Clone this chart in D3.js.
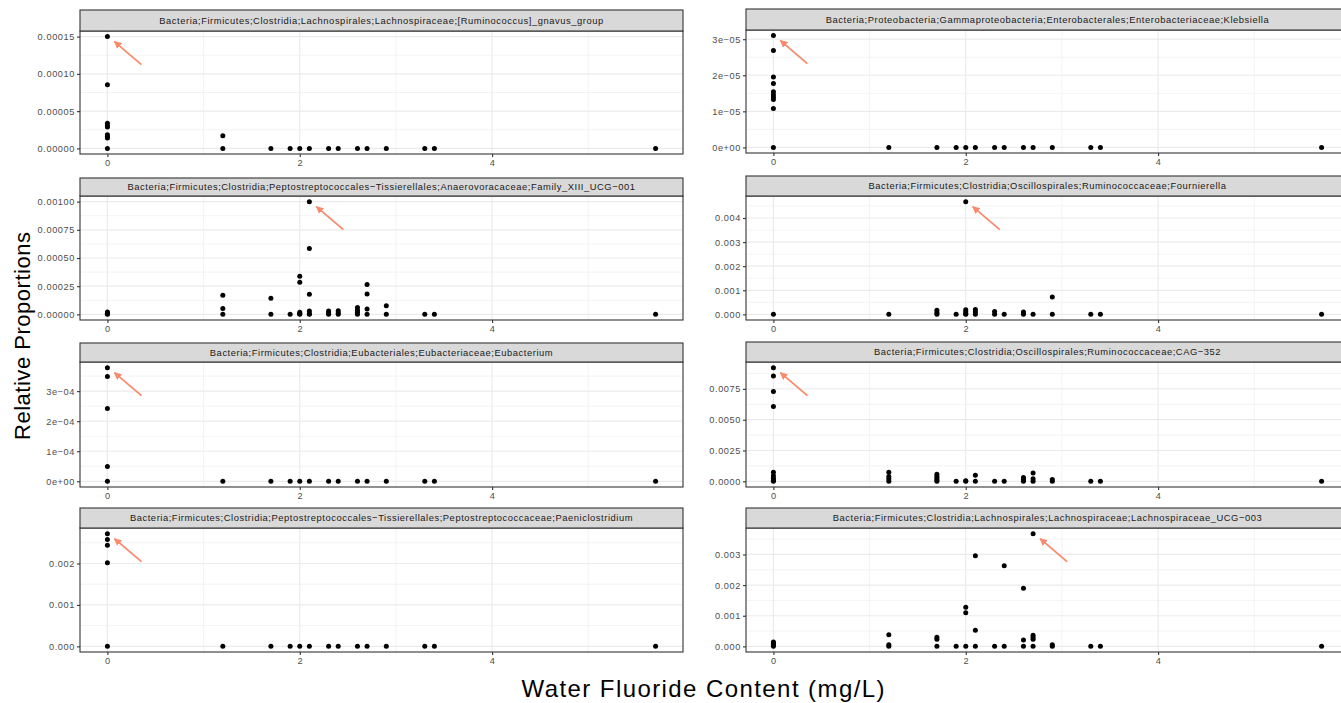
<!DOCTYPE html>
<meta charset="utf-8">
<html>
<head>
<script src="https://cdn.jsdelivr.net/npm/d3@7"></script>
<style>
  body { margin: 0; background: #fff; }
  text { font-family: "Liberation Sans", Arial, Helvetica, sans-serif; }
</style>
</head>
<body>
<div id="viz"></div>
<script>
// fluoride levels (mg/L) shared by every panel
const fluoride = [0, 1.2, 1.7, 1.9, 2.0, 2.1, 2.3, 2.4, 2.6, 2.7, 2.9, 3.3, 3.4, 5.7];

// relative proportions per fluoride level (same order as fluoride)
const gnavus = [
  [0.00015, 0.0000855, 0.0000339, 0.0000304, 0.0000286, 0.0000183, 0.0000161, 0.0000138, 0],
  [0.000017, 0], [0], [0], [0], [0], [0], [0], [0], [0], [0], [0], [0], [0]];
const familyXIII = [
  [0.00002, 0.00001, 0.000005, 0],
  [0.000169, 0.000053, 0], [0.000142, 0], [0],
  [0.000338, 0.000285, 0.000018, 0.000006, 0],
  [0.001, 0.000585, 0.000178, 0.00003, 0.000006, 0],
  [0.00003, 0.000012, 0], [0.000033, 0.000012, 0],
  [0.00006, 0.000036, 0.000018, 0], [0.000264, 0.000181, 0.000047, 0],
  [0.000077, 0], [0], [0], [0]];
const eubacterium = [
  [0.000378, 0.000349, 0.000242, 0.000049, 0],
  [0], [0], [0], [0], [0], [0], [0], [0], [0], [0], [0], [0], [0]];
const paeniclostridium = [
  [0.00272, 0.00258, 0.00244, 0.00202, 0],
  [0], [0], [0], [0], [0], [0], [0], [0], [0], [0], [0], [0], [0]];
const klebsiella = [
  [0.000031, 0.0000269, 0.0000195, 0.0000177, 0.0000154, 0.0000146, 0.000014, 0.0000133, 0.0000108, 0],
  [0], [0], [0], [0], [0], [0], [0], [0], [0], [0], [0], [0], [0]];
const fournierella = [
  [0], [0], [0.00017, 0.00007, 0], [0],
  [0.00468, 0.00019, 0.00011, 0.00003, 0],
  [0.0002, 0.0001, 0], [0.00012, 0], [0], [0.0001, 0], [0],
  [0.00072, 0], [0], [0], [0]];
const cag352 = [
  [0.00922, 0.00854, 0.00728, 0.00608, 0.00074, 0.00046, 0.00025, 0.00008, 0],
  [0.00074, 0.0004, 0.0002, 0], [0.00057, 0.0004, 0.00025, 0.0001, 0], [0],
  [0.00005, 0], [0.0005, 0], [0], [0],
  [0.0003, 0.00014, 0], [0.00068, 0.0002, 0], [0.00014, 0], [0], [0], [0]];
const lachnoUCG003 = [
  [0.00014, 0.0001, 0.00005, 0],
  [0.00038, 0.00005, 0], [0.0003, 0.00023, 0], [0],
  [0.00128, 0.0011, 0], [0.00296, 0.00053, 0], [0], [0.00263, 0],
  [0.0019, 0.00021, 0], [0.00368, 0.00036, 0.0003, 0.00023, 0],
  [0.00005, 0], [0], [0], [0]];

const taxa = [
  "Bacteria;Firmicutes;Clostridia;Lachnospirales;Lachnospiraceae;[Ruminococcus]_gnavus_group",
  "Bacteria;Firmicutes;Clostridia;Peptostreptococcales\u2212Tissierellales;Anaerovoracaceae;Family_XIII_UCG\u2212001",
  "Bacteria;Firmicutes;Clostridia;Eubacteriales;Eubacteriaceae;Eubacterium",
  "Bacteria;Firmicutes;Clostridia;Peptostreptococcales\u2212Tissierellales;Peptostreptococcaceae;Paeniclostridium",
  "Bacteria;Proteobacteria;Gammaproteobacteria;Enterobacterales;Enterobacteriaceae;Klebsiella",
  "Bacteria;Firmicutes;Clostridia;Oscillospirales;Ruminococcaceae;Fournierella",
  "Bacteria;Firmicutes;Clostridia;Oscillospirales;Ruminococcaceae;CAG\u2212352",
  "Bacteria;Firmicutes;Clostridia;Lachnospirales;Lachnospiraceae;Lachnospiraceae_UCG\u2212003"
];
const panelValues = [gnavus, familyXIII, eubacterium, paeniclostridium,
                     klebsiella, fournierella, cag352, lachnoUCG003];

const yTickValues = [
  [0, 0.00005, 0.0001, 0.00015],
  [0, 0.00025, 0.0005, 0.00075, 0.001],
  [0, 0.0001, 0.0002, 0.0003],
  [0, 0.001, 0.002],
  [0, 0.00001, 0.00002, 0.00003],
  [0, 0.001, 0.002, 0.003, 0.004],
  [0, 0.0025, 0.005, 0.0075],
  [0, 0.001, 0.002, 0.003]
];
const yTickLabels = [
  ["0.00000", "0.00005", "0.00010", "0.00015"],
  ["0.00000", "0.00025", "0.00050", "0.00075", "0.00100"],
  ["0e+00", "1e\u221204", "2e\u221204", "3e\u221204"],
  ["0.000", "0.001", "0.002"],
  ["0e+00", "1e\u221205", "2e\u221205", "3e\u221205"],
  ["0.000", "0.001", "0.002", "0.003", "0.004"],
  ["0.0000", "0.0025", "0.0050", "0.0075"],
  ["0.000", "0.001", "0.002", "0.003"]
];
const xTickValues = [0, 2, 4];
const xMinorValues = [1, 3, 5];

// layout of the 2 x 4 facet grid (px)
const W = 1341, H = 703;
const colLeft = [80, 746], colRight = [683, 1349];
const stripTop = [[10, 178, 343, 508], [9, 176, 342, 508]];
const panelTop = [[31, 196, 362, 528], [30, 196, 362, 528]];
const panelBottom = [[154, 320, 487, 652], [153, 320, 487, 652]];

const arrowColor = "#F98A6C";

const svg = d3.select("#viz").append("svg")
  .attr("width", W).attr("height", H)
  .style("background", "#fff");

svg.append("defs").append("marker")
  .attr("id", "head")
  .attr("viewBox", "0 0 10 10")
  .attr("refX", 9).attr("refY", 5)
  .attr("markerWidth", 4.2).attr("markerHeight", 4.2)
  .attr("orient", "auto")
  .append("path")
  .attr("d", "M0,0L10,5L0,10z")
  .attr("fill", arrowColor);

const xMax = d3.max(fluoride);

panelValues.forEach((vals, i) => {
  const col = Math.floor(i / 4), row = i % 4;
  const pts = [];
  vals.forEach((arr, j) => arr.forEach(v => pts.push({x: fluoride[j], y: v})));
  const yMax = d3.max(pts, d => d.y);

  const x = d3.scaleLinear()
    .domain([-0.05 * xMax, 1.05 * xMax])
    .range([colLeft[col], colRight[col]]);
  const y = d3.scaleLinear()
    .domain([-0.05 * yMax, 1.05 * yMax])
    .range([panelBottom[col][row], panelTop[col][row]]);

  const g = svg.append("g");
  const pl = colLeft[col], pr = colRight[col];
  const pt = panelTop[col][row], pb = panelBottom[col][row];

  g.append("rect").attr("x", pl).attr("y", pt)
    .attr("width", pr - pl).attr("height", pb - pt).attr("fill", "#fff");

  // grid
  const yStep = yTickValues[i][1] - yTickValues[i][0];
  const yMinor = yTickValues[i].map(t => t + yStep / 2)
    .filter(t => t < y.domain()[1]);
  g.selectAll(".ymin").data(yMinor).join("line")
    .attr("x1", pl).attr("x2", pr)
    .attr("y1", d => y(d)).attr("y2", d => y(d))
    .attr("stroke", "#EBEBEB").attr("stroke-width", 0.6);
  g.selectAll(".xmin").data(xMinorValues).join("line")
    .attr("x1", d => x(d)).attr("x2", d => x(d))
    .attr("y1", pt).attr("y2", pb)
    .attr("stroke", "#EBEBEB").attr("stroke-width", 0.6);
  g.selectAll(".ymaj").data(yTickValues[i]).join("line")
    .attr("x1", pl).attr("x2", pr)
    .attr("y1", d => y(d)).attr("y2", d => y(d))
    .attr("stroke", "#EBEBEB").attr("stroke-width", 1.2);
  g.selectAll(".xmaj").data(xTickValues).join("line")
    .attr("x1", d => x(d)).attr("x2", d => x(d))
    .attr("y1", pt).attr("y2", pb)
    .attr("stroke", "#EBEBEB").attr("stroke-width", 1.2);

  // points
  g.selectAll("circle").data(pts).join("circle")
    .attr("cx", d => x(d.x)).attr("cy", d => y(d.y))
    .attr("r", 2.5).attr("fill", "#000");

  // arrow at the peak
  const top = pts.reduce((a, b) => b.y > a.y ? b : a);
  const px = x(top.x), py = y(top.y);
  g.append("line")
    .attr("x1", px + 34).attr("y1", py + 28)
    .attr("x2", px + 7).attr("y2", py + 5)
    .attr("stroke", arrowColor).attr("stroke-width", 1.8)
    .attr("marker-end", "url(#head)");

  g.append("rect").attr("x", pl).attr("y", pt)
    .attr("width", pr - pl).attr("height", pb - pt)
    .attr("fill", "none").attr("stroke", "#333").attr("stroke-width", 1.1);

  // strip
  const st = stripTop[col][row];
  g.append("rect").attr("x", pl).attr("y", st)
    .attr("width", pr - pl).attr("height", pt - st)
    .attr("fill", "#D9D9D9").attr("stroke", "#333").attr("stroke-width", 1.1);
  g.append("text")
    .attr("x", (pl + pr) / 2).attr("y", (st + pt) / 2 + 3.3)
    .attr("text-anchor", "middle")
    .attr("font-size", 9.4).attr("fill", "#1A1A1A")
    .attr("letter-spacing", 0.55)
    .text(taxa[i]);

  // axes
  const yAxis = d3.axisLeft(y).tickValues(yTickValues[i])
    .tickFormat((d, k) => yTickLabels[i][k]).tickSize(3).tickPadding(2);
  const ya = g.append("g").attr("transform", `translate(${pl},0)`).call(yAxis);
  const xAxis = d3.axisBottom(x).tickValues(xTickValues)
    .tickFormat(d3.format("d")).tickSize(3).tickPadding(2);
  const xa = g.append("g").attr("transform", `translate(0,${pb})`).call(xAxis);
  [ya, xa].forEach(a => {
    a.select(".domain").remove();
    a.selectAll(".tick line").attr("stroke", "#333").attr("stroke-width", 1.1);
    a.selectAll(".tick text").attr("fill", "#4D4D4D").attr("font-size", 9.2)
      .attr("letter-spacing", 0.6)
      .style("font-family", "'Liberation Sans', Arial, sans-serif");
  });
});

svg.append("text")
  .attr("transform", "translate(30,336) rotate(-90)")
  .attr("text-anchor", "middle")
  .attr("font-size", 22).attr("fill", "#000")
  .attr("textLength", 208).attr("lengthAdjust", "spacing")
  .text("Relative Proportions");

svg.append("text")
  .attr("x", 703).attr("y", 697)
  .attr("text-anchor", "middle")
  .attr("font-size", 24).attr("fill", "#000")
  .attr("textLength", 363).attr("lengthAdjust", "spacing")
  .text("Water Fluoride Content (mg/L)");
</script>
</body>
</html>
